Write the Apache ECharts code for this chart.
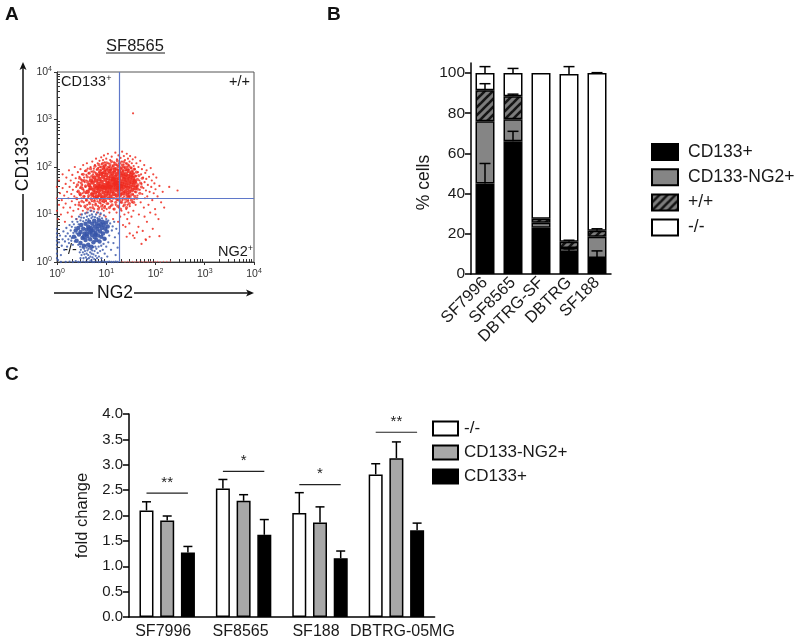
<!DOCTYPE html>
<html><head><meta charset="utf-8">
<style>html,body{margin:0;padding:0;background:#fff}#c{width:800px;height:642px}</style>
<script src="https://cdn.jsdelivr.net/npm/echarts@6/dist/echarts.min.js"></script>
</head><body><div id="c"></div>
<script>
const redCore=[[4.2,30],[4.5,42],[4.8,36],[4.9,52],[5.2,26],[5.3,47],[5.5,33],[5.7,60],[5.9,40],[6,29],[6.2,52],[6.4,24],[6.5,36],[6.8,66],[6.9,45],[7,31],[7.3,56],[7.4,26],[7.6,40],[7.8,72],[8,34],[8.1,49],[8.4,23],[8.6,62],[8.8,29],[9,42],[9.2,78],[9.4,36],[9.6,54],[9.8,25],[10,68],[10.3,31],[10.5,46],[10.8,39],[11,58],[11.2,28],[11.5,82],[11.7,35],[12,50],[12.2,24],[12.5,64],[12.8,42],[13,31],[13.3,74],[13.6,55],[13.9,37],[14.2,27],[14.5,47],[14.8,86],[15,62],[15.4,33],[15.7,41],[16,53],[16.3,25],[16.6,70],[17,37],[17.4,46],[17.8,30],[18,58],[18.4,80],[18.8,40],[19.2,26],[19.6,50],[20,66],[20.5,34],[21,44],[21.5,74],[22,28],[22.5,56],[23,38],[23.6,62],[24,47],[24.6,31],[25,70],[25.5,41],[26,54],[26.8,26],[27.5,36],[28,64],[28.8,46],[29.5,30],[30,56],[31,39],[32,68],[33,48],[34,33],[35,58],[36,42],[38,50],[39,36],[12,38],[15,44],[10,37],[8.5,38],[18,35],[20,40],[14,55],[16,47],[7,38],[11,44]];
const redMid=[[2.5,22],[2.6,42],[2.7,31],[2.8,16],[2.9,58],[3,26],[3.1,46],[3.2,19],[3.3,35],[3.4,70],[3.5,24],[3.6,52],[3.7,15],[3.8,40],[3.9,84],[4,20],[4.1,62],[4.2,13],[4.4,25],[4.5,74],[4.6,17],[4.8,92],[5,21],[5.1,64],[5.3,14],[5.5,80],[5.7,19],[5.9,104],[6.1,16],[6.3,72],[6.5,22],[6.7,90],[6.9,13],[7.1,112],[7.3,18],[7.5,84],[7.7,21],[7.9,100],[8.1,15],[8.3,74],[8.5,120],[8.7,19],[9,92],[9.2,14],[9.4,108],[9.6,20],[9.9,86],[10.2,122],[10.4,17],[10.7,98],[11,22],[11.3,74],[11.6,14],[11.9,112],[12.2,88],[12.5,19],[12.8,130],[13.1,16],[13.4,96],[13.8,22],[14.1,108],[14.5,13],[14.9,78],[15.2,118],[15.6,18],[16,92],[16.4,21],[16.8,135],[17.2,15],[17.6,102],[18,86],[18.5,20],[19,122],[19.5,13],[20,94],[20.5,18],[21,110],[21.6,22],[22.2,84],[22.8,128],[23.4,16],[24,100],[24.6,21],[25.2,88],[25.8,14],[26.4,116],[27,19],[27.6,84],[28.2,23],[28.8,104],[29.5,17],[30.2,78],[31,25],[31.8,96],[32.6,20],[33.4,82],[34.2,27],[35,74],[36,18],[37,90],[38,24],[39,64],[40,30],[41,78],[42,22],[43,55],[44,34],[46,66],[48,28],[50,46],[52,38],[54,58],[3.3,52],[3.6,30],[4.2,48],[4.6,34],[5.1,28],[5.8,23],[3.1,38],[2.9,28],[40,46],[42,38],[37,52],[34,64],[44,42],[27,90],[22,100],[17,110],[12,100],[9,100]];
const redScatter=[[1,12],[1,22],[1,38],[1.05,8],[1.1,16],[1.1,52],[1.15,28],[1.2,10],[1.25,20],[1.3,36],[1.3,70],[1.35,14],[1.4,25],[1.45,7],[1.5,44],[1.5,17],[1.55,60],[1.6,30],[1.65,11],[1.7,22],[1.75,85],[1.8,38],[1.85,14],[1.9,52],[1.95,27],[2,9],[2,19],[2.05,68],[2.1,33],[2.15,12],[2.2,46],[2.25,24],[2.3,100],[2.35,16],[2.4,58],[2.45,38],[2.5,8],[2.55,21],[2.6,30],[2.65,78],[2.7,13],[2.75,48],[2.8,18],[2.85,62],[2.9,26],[2.95,36],[3,10],[3,90],[3.05,15],[3.1,54],[3.15,22],[3.2,70],[3.25,42],[3.3,28],[3.35,12],[3.4,110],[3.45,33],[3.5,18],[3.55,60],[3.6,24],[3.65,48],[3.7,82],[3.75,14],[3.8,38],[3.85,28],[3.9,20],[3.95,68],[4,52],[4,11],[4.05,120],[4.1,16],[4.2,92],[4.3,23],[4.4,74],[4.5,18],[4.6,60],[4.7,14],[4.8,100],[4.9,22],[5,80],[5,12],[5.1,19],[5.2,130],[5.3,16],[5.4,70],[5.5,24],[5.6,92],[5.7,13],[5.8,20],[5.9,110],[6,76],[6.1,17],[6.2,150],[6.3,22],[6.4,88],[6.5,11],[6.6,19],[6.7,120],[6.8,15],[6.9,96],[7,24],[7.1,78],[7.2,14],[7.3,135],[7.4,20],[7.5,100],[7.6,10],[7.7,17],[7.8,85],[7.9,160],[8,23],[8.1,115],[8.2,13],[8.3,19],[8.4,90],[8.5,16],[8.6,140],[8.7,105],[8.8,21],[8.9,12],[9,175],[9.1,18],[9.2,95],[9.3,125],[9.4,15],[9.5,22],[9.6,84],[9.7,9],[9.8,110],[9.9,19],[10,150],[10.2,13],[10.4,90],[10.6,22],[10.8,190],[11,17],[11.2,120],[11.4,98],[11.6,11],[11.8,21],[12,140],[12.3,15],[12.6,88],[12.9,165],[13.2,19],[13.5,105],[13.8,8],[14.1,13],[14.4,125],[14.7,22],[15,95],[15.3,200],[15.6,16],[15.9,110],[16.2,11],[16.5,145],[16.8,20],[17.1,88],[17.4,7],[17.7,175],[18,14],[18.3,120],[18.6,23],[18.9,100],[19.2,9],[19.5,155],[19.8,18],[20.1,92],[20.4,12],[20.7,130],[21,210],[21.3,20],[21.6,85],[21.9,6],[22.2,15],[22.5,112],[22.8,170],[23.1,24],[23.4,10],[23.7,95],[24,140],[24.3,18],[24.6,5.5],[24.9,84],[25.2,120],[25.5,13],[25.8,22],[26.1,190],[26.4,100],[26.7,8],[27,16],[27.3,78],[27.6,150],[27.9,20],[28.2,11],[28.5,110],[28.8,88],[29.1,24],[29.4,6.5],[29.7,130],[30,15],[30.5,170],[31,75],[31.5,22],[32,95],[32.5,9],[33,120],[33.5,18],[34,80],[34.5,145],[35,26],[35.5,12],[36,105],[36.5,72],[37,21],[37.5,3.2],[38,90],[38.5,30],[39,160],[39.5,16],[40,65],[41,120],[42,40],[43,25],[44,78],[45,100],[46,10],[47,52],[48,33],[49,135],[50,18],[51,70],[52,44],[53,90],[54,27],[55,4.5],[56,60],[57,36],[58,14],[59,110],[60,48],[61,22],[62,75],[63,3],[64,32],[65,56],[66,85],[67,7],[68,24],[70,42],[72,16],[74,62],[76,30],[78,11],[80,95],[82,38],[84,52],[86,20],[88,5],[90,70],[92,28],[95,45],[98,13],[100,34],[104,60],[110,24],[115,8],[120,40],[130,18],[140,30],[150,14],[190,38],[35,1350],[280,32],[76,3.4],[42,4.2],[30,4],[120,3.5],[52,2.4],[64,2.9],[26,3.4],[100,10],[60,9],[35,3.6],[45,5.5]];
const blueCore=[[2.2,3.4],[2.4,4.6],[2.5,2.8],[2.7,5.2],[2.8,3.8],[3,2.5],[3,4.3],[3.1,6],[3.3,3.2],[3.4,5],[3.5,2.2],[3.6,4],[3.8,6.4],[3.8,2.9],[4,4.8],[4.1,3.5],[4.3,2.3],[4.3,5.6],[4.5,7],[4.6,4.2],[4.7,3],[4.9,5.2],[5,2.1],[5.1,3.7],[5.2,6.4],[5.4,4.6],[5.5,2.6],[5.7,7.4],[5.8,3.3],[5.9,5.5],[6.1,4.1],[6.3,2.9],[6.4,6.5],[6.6,4.9],[6.8,3.6],[7,5.7],[7.1,7.6],[7.3,2.7],[7.5,4.4],[7.7,6.2],[7.9,3.4],[8.1,5.2],[8.4,7],[8.6,4],[8.9,6],[9.2,3.1],[9.5,5],[9.9,6.8],[10.3,4.4],[10.7,5.6],[4,3.9],[5,4.5],[6,3.8],[3.5,3.4],[4.5,5]];
const blueScatter=[[1,1.2],[1,1.5],[1,1.9],[1,2.3],[1,2.8],[1,3.3],[1,4],[1,5],[1.05,1.1],[1.1,2.6],[1.15,3.6],[1.2,1.4],[1.25,2.2],[1.3,3],[1.35,4.4],[1.4,1.8],[1.45,2.7],[1.5,3.5],[1.55,5.2],[1.6,2.1],[1.65,4],[1.7,3],[1.75,2.5],[1.8,6],[1.85,3.5],[1.9,4.6],[1.95,2.8],[2,3.2],[2,5.5],[2.05,7],[2.1,2.3],[2.15,4.1],[2.2,6.2],[2.3,2.7],[2.35,5.3],[2.4,3.3],[2.45,8],[2.5,4],[2.6,7],[2.7,2.3],[2.75,6.2],[2.8,9],[2.9,1.6],[2.95,2.1],[3,1.2],[3,7.5],[3.05,1.8],[3.1,8.6],[3.15,1.4],[3.2,10],[3.3,2],[3.35,1.6],[3.4,7.2],[3.45,1.2],[3.5,8.5],[3.55,1.9],[3.6,1.45],[3.7,1.7],[3.75,10.5],[3.8,2.2],[3.85,1.25],[3.9,7.6],[4,1.5],[4,2],[4.05,9],[4.1,1.15],[4.15,1.75],[4.2,11],[4.3,1.4],[4.35,8],[4.4,1.9],[4.45,1.2],[4.5,2.1],[4.6,9.5],[4.7,1.6],[4.75,1.3],[4.8,12],[4.9,1.85],[5,1.1],[5,8.4],[5.05,1.5],[5.1,10],[5.2,1.75],[5.25,1.25],[5.3,9],[5.4,2.05],[5.5,1.45],[5.6,11.5],[5.7,1.15],[5.8,1.7],[5.9,8.8],[6,2.1],[6.1,1.35],[6.2,10],[6.3,1.9],[6.5,1.2],[6.6,8.4],[6.7,1.55],[6.8,11],[7,2.1],[7.1,1.3],[7.3,9],[7.5,1.7],[7.7,10.5],[7.9,2.2],[8,1.2],[8.2,8.3],[8.5,1.8],[8.8,2.4],[9,9.6],[9.3,1.5],[9.6,3],[10,2.1],[10,8],[10.5,1.3],[11,7.4],[11,2.6],[11.5,3.6],[12,6.5],[12.5,1.8],[13,4.6],[13.5,5.6],[14,2.5],[14.5,7],[15,3.3],[15.5,1.4],[16,5],[17,2],[18,4],[1.2,1],[1.5,1],[1.8,1.02],[2.1,1],[2.4,1.04],[2.7,1],[3,1],[3.4,1.02],[3.8,1],[4.2,1],[4.7,1.03],[5.2,1],[5.7,1],[6.3,1.02],[7,1],[7.7,1],[8.5,1.03],[9.4,1],[10.4,1],[11.5,1.02],[12.7,1],[14,1],[15.5,1.02],[17,1]];
const redBottom=[[21,1.03],[24,1],[27,1.03],[30,1],[34,1.02],[38,1],[42,1.03],[47,1],[52,1.02],[58,1],[64,1.03],[71,1],[79,1.02],[88,1],[98,1.02],[110,1.03],[125,1],[145,1.03],[170,1.02],[200,1.04]];
const gateX=18, gateY=22;

const catB=['SF7996','SF8565','DBTRG-SF','DBTRG','SF188'];
const pctBlack=[45,66,23,11,8];
const pctGray=[31,11,2.5,2,10.5];
const pctHatch=[15.5,11.5,2,3,3];
const pctWhite=[8.5,11.5,72.5,83.5,78.5];
const errBlack=[55,71,null,12.5,11.5];
const errHatch=[94.7,89.5,null,16.8,22.5];
const errWhite=[103.2,102.3,null,103.2,100.2];

const catC=['SF7996','SF8565','SF188','DBTRG-05MG'];
const fcWhite=[2.1,2.53,2.05,2.81];
const fcGray=[1.9,2.29,1.86,3.13];
const fcBlack=[1.27,1.62,1.16,1.71];
const fcWhiteErr=[2.27,2.71,2.45,3.02];
const fcGrayErr=[1.99,2.41,2.17,3.45];
const fcBlackErr=[1.39,1.92,1.30,1.85];
const sigLevel=[2.44,2.87,2.61,3.64];
const sigStars=['**','*','*','**'];

const majorLog=[1,10,100,1000,10000];
const minorLog=[2,3,4,5,6,7,8,9,20,30,40,50,60,70,80,90,200,300,400,500,600,700,800,900,2000,3000,4000,5000,6000,7000,8000,9000];
const tickB=[0,20,40,60,80,100];

const FONT='"Liberation Sans",Arial,sans-serif';
const INK='#1a1a1a';
const hatch=document.createElement('canvas');hatch.width=8;hatch.height=8;
{const g=hatch.getContext('2d');g.fillStyle='#7c7c7c';g.fillRect(0,0,8,8);g.strokeStyle='#151515';g.lineWidth=2.6;
 [[-2,10,10,-2],[-6,6,6,-6],[2,14,14,2]].forEach(l=>{g.beginPath();g.moveTo(l[0],l[1]);g.lineTo(l[2],l[3]);g.stroke();});}
const hatchFill={image:hatch,repeat:'repeat'};

const logLabel=v=>'{b|10}{s|'+Math.round(Math.log10(v))+'}';
const logRich={b:{fontSize:10.5,color:'#333',fontFamily:FONT},s:{fontSize:7,color:'#333',fontFamily:FONT,verticalAlign:'top',padding:[0,0,5,0]}};

function errBar(capW,off,lw){return function(p,api){
  const x0=api.coord([api.value(0),api.value(1)]);const x1=api.coord([api.value(0),api.value(2)]);
  const x=x0[0]+off;const st={stroke:'#000',lineWidth:lw,fill:null};
  return {type:'group',children:[
   {type:'line',shape:{x1:x,y1:x0[1],x2:x,y2:x1[1]},style:st},
   {type:'line',shape:{x1:x-capW/2,y1:x1[1],x2:x+capW/2,y2:x1[1]},style:st}]};};}
const cum=(arrs,i)=>arrs.reduce((s,a)=>s+a[i],0);
const errData=(tops,lower)=>tops.map((t,i)=>t==null?null:[i,cum(lower,i),t]).filter(Boolean);

const barW=14,barPitch=20.7;
const fcErr=(vals,errs)=>errs.map((e,i)=>[i,vals[i],e]);
const bStyle=c=>({color:c,borderColor:'#000',borderWidth:1.5});
const catCShift=[[0,8],[0,6],[0,8],[12,0]];
const catCItems=catC.map((c,i)=>({value:c,textStyle:{padding:[0,catCShift[i][1],0,catCShift[i][0]]}}));

const chart=echarts.init(document.getElementById('c'));
const pt=(name,data,color,size,op)=>({type:'scatter',name,xAxisIndex:0,yAxisIndex:0,data,symbolSize:size,silent:true,itemStyle:{color,opacity:op},animation:false});
chart.setOption({
 animation:false,backgroundColor:'#fff',
 textStyle:{fontFamily:FONT},
 grid:[
  {left:57,top:72,width:197,height:190,show:true,borderColor:'#555',borderWidth:1},
  {left:471,top:63,width:140,height:211},
  {left:129,top:414,width:305.6,height:203}],
 xAxis:[
  {type:'log',logBase:10,gridIndex:0,min:1,max:10000,position:'bottom',
   axisLine:{lineStyle:{color:'#333',width:1}},splitLine:{show:false},minorTick:{show:false},
   axisTick:{customValues:majorLog,length:3,lineStyle:{color:'#333'}},
   axisLabel:{customValues:majorLog,formatter:logLabel,rich:logRich,margin:6,hideOverlap:false}},
  {type:'log',logBase:10,gridIndex:0,min:1,max:10000,position:'bottom',
   axisLine:{show:false},splitLine:{show:false},axisLabel:{show:false},
   axisTick:{show:true,customValues:minorLog,inside:true,length:3,lineStyle:{color:'#333'}}},
  {type:'category',gridIndex:1,data:catB,
   axisLine:{lineStyle:{color:'#000',width:1.5}},axisTick:{alignWithLabel:true,length:6,lineStyle:{color:'#000',width:1.5}},
   axisLabel:{rotate:45,fontSize:16.5,color:INK,margin:6,interval:0}},
  {type:'category',gridIndex:2,data:catCItems,
   axisLine:{lineStyle:{color:'#000',width:1.5}},axisTick:{alignWithLabel:true,length:5,lineStyle:{color:'#000',width:1.5}},
   axisLabel:{fontSize:16,color:INK,margin:7,interval:0}}],
 yAxis:[
  {type:'log',logBase:10,gridIndex:0,min:1,max:10000,
   axisLine:{show:true,lineStyle:{color:'#333',width:1}},splitLine:{show:false},minorTick:{show:false},
   axisTick:{show:true,customValues:majorLog,length:3,lineStyle:{color:'#333'}},
   axisLabel:{customValues:majorLog,formatter:logLabel,rich:logRich,margin:5,hideOverlap:false}},
  {type:'log',logBase:10,gridIndex:0,min:1,max:10000,position:'left',
   axisLine:{show:false},splitLine:{show:false},axisLabel:{show:false},
   axisTick:{show:true,customValues:minorLog,inside:true,length:3,lineStyle:{color:'#333'}}},
  {type:'value',gridIndex:1,min:0,max:105,
   name:'% cells',nameLocation:'middle',nameGap:38,nameTextStyle:{fontSize:17.5,color:INK,padding:[0,28,0,0]},
   axisLine:{show:true,lineStyle:{color:'#000',width:1.5}},splitLine:{show:false},
   axisTick:{show:true,customValues:tickB,length:6,lineStyle:{color:'#000',width:1.5}},
   axisLabel:{customValues:tickB,fontSize:15.5,color:INK,margin:6}},
  {type:'value',gridIndex:2,min:0,max:4,interval:0.5,
   name:'fold change',nameLocation:'middle',nameGap:38,nameTextStyle:{fontSize:16.5,color:INK},
   axisLine:{show:true,lineStyle:{color:'#000',width:1.5}},splitLine:{show:false},
   axisTick:{show:true,length:6,lineStyle:{color:'#000',width:1.5}},
   axisLabel:{fontSize:15,color:INK,margin:6,formatter:v=>v.toFixed(1)}}],
 legend:[
  {orient:'vertical',left:651,top:143,padding:0,itemWidth:26,itemHeight:16,itemGap:7.2,selectedMode:false,icon:'rect',
   textStyle:{fontSize:17.5,color:INK,padding:[0,0,0,5]},
   data:['CD133+','CD133-NG2+','+/+','-/-']},
  {orient:'vertical',left:432,top:420,padding:0,itemWidth:25,itemHeight:14,itemGap:7,selectedMode:false,icon:'rect',
   textStyle:{fontSize:17,color:INK,padding:[0,0,0,1]},
   formatter:n=>n.replace('fc ',''),
   data:['fc -/-','fc CD133-NG2+','fc CD133+']}],
 series:[
  pt('redScatter',redScatter,'#ee2a1f',2.2,0.85),
  pt('redMid',redMid,'#ee2a1f',3.2,0.75),
  pt('redCore',redCore,'#ee2a1f',4.5,0.9),
  pt('blueScatter',blueScatter,'#3f5cab',2.3,0.85),
  pt('blueCore',blueCore,'#3654a8',4.5,0.9),
  Object.assign(pt('redBottom',redBottom,'#e85a60',1.5,0.8),{
   markLine:{silent:true,symbol:'none',animation:false,label:{show:false},lineStyle:{color:'#5f78c9',width:1.2,type:'solid'},
    data:[{xAxis:gateX},{yAxis:gateY}]}}),
  {type:'bar',name:'CD133+',stack:'p',xAxisIndex:2,yAxisIndex:2,barWidth:19,data:pctBlack,itemStyle:bStyle('#000')},
  {type:'bar',name:'CD133-NG2+',stack:'p',xAxisIndex:2,yAxisIndex:2,data:pctGray,itemStyle:bStyle('#858585')},
  {type:'bar',name:'+/+',stack:'p',xAxisIndex:2,yAxisIndex:2,data:pctHatch,itemStyle:bStyle(hatchFill)},
  {type:'bar',name:'-/-',stack:'p',xAxisIndex:2,yAxisIndex:2,data:pctWhite,itemStyle:bStyle('#fff')},
  {type:'custom',xAxisIndex:2,yAxisIndex:2,z:5,silent:true,renderItem:errBar(11,0,1.5),encode:{x:0,y:2},data:errData(errBlack,[pctBlack])},
  {type:'custom',xAxisIndex:2,yAxisIndex:2,z:5,silent:true,renderItem:errBar(11,0,1.5),encode:{x:0,y:2},data:errData(errHatch,[pctBlack,pctGray,pctHatch])},
  {type:'custom',xAxisIndex:2,yAxisIndex:2,z:5,silent:true,renderItem:errBar(11,0,1.5),encode:{x:0,y:2},data:errData(errWhite,[pctBlack,pctGray,pctHatch,pctWhite])},
  {type:'bar',name:'fc -/-',xAxisIndex:3,yAxisIndex:3,barWidth:barW,barGap:'48%',data:fcWhite,itemStyle:bStyle('#fff')},
  {type:'bar',name:'fc CD133-NG2+',xAxisIndex:3,yAxisIndex:3,barWidth:barW,barGap:'48%',data:fcGray,itemStyle:bStyle('#a8a8a8')},
  {type:'bar',name:'fc CD133+',xAxisIndex:3,yAxisIndex:3,barWidth:barW,barGap:'48%',data:fcBlack,itemStyle:bStyle('#000')},
  {type:'custom',xAxisIndex:3,yAxisIndex:3,silent:true,renderItem:errBar(9,-barPitch,1.5),encode:{x:0,y:2},data:fcErr(fcWhite,fcWhiteErr)},
  {type:'custom',xAxisIndex:3,yAxisIndex:3,silent:true,renderItem:errBar(9,0,1.5),encode:{x:0,y:2},data:fcErr(fcGray,fcGrayErr)},
  {type:'custom',xAxisIndex:3,yAxisIndex:3,silent:true,renderItem:errBar(9,barPitch,1.5),encode:{x:0,y:2},data:fcErr(fcBlack,fcBlackErr)},
  {type:'custom',xAxisIndex:3,yAxisIndex:3,silent:true,encode:{x:0,y:1},
   data:sigLevel.map((v,i)=>[i,v]),
   renderItem:function(p,api){const c=api.coord([api.value(0),api.value(1)]);
    return {type:'group',children:[
     {type:'line',shape:{x1:c[0]-barPitch,y1:c[1],x2:c[0]+barPitch,y2:c[1]},style:{stroke:'#222',lineWidth:1.2}},
     {type:'text',style:{text:sigStars[p.dataIndex],x:c[0],y:c[1]-3,align:'center',verticalAlign:'bottom',fontSize:15,fontFamily:FONT,fill:'#222'}}]};}}
 ],
 graphic:[
  {type:'text',left:5,top:5,style:{text:'A',font:'bold 19px "Liberation Sans"',fill:'#111'}},
  {type:'text',left:327,top:5,style:{text:'B',font:'bold 19px "Liberation Sans"',fill:'#111'}},
  {type:'text',left:5,top:365,style:{text:'C',font:'bold 19px "Liberation Sans"',fill:'#111'}},
  {type:'text',x:135,y:46,style:{text:'SF8565',font:'16.5px "Liberation Sans"',fill:INK,align:'center',verticalAlign:'middle'}},
  {type:'line',shape:{x1:106,y1:53,x2:165,y2:53},style:{stroke:INK,lineWidth:1}},
  {type:'text',x:61,y:82,style:{rich:{a:{fontSize:14.5,fontFamily:FONT,fill:INK},s:{fontSize:9,fontFamily:FONT,fill:INK,verticalAlign:'top'}},text:'{a|CD133}{s|+}',verticalAlign:'middle'}},
  {type:'text',x:250,y:82,style:{text:'+/+',font:'14.5px "Liberation Sans"',fill:INK,align:'right',verticalAlign:'middle'}},
  {type:'rect',shape:{x:60,y:242,width:20,height:15},style:{fill:'#fff'}},
  {type:'text',x:70,y:250,style:{text:'-/-',font:'14.5px "Liberation Sans"',fill:INK,align:'center',verticalAlign:'middle'}},
  {type:'text',x:253,y:252,style:{rich:{a:{fontSize:14.5,fontFamily:FONT,fill:INK},s:{fontSize:9,fontFamily:FONT,fill:INK,verticalAlign:'top'}},text:'{a|NG2}{s|+}',align:'right',verticalAlign:'middle'}},
  {type:'text',x:115,y:293,style:{text:'NG2',font:'17.5px "Liberation Sans"',fill:'#111',align:'center',verticalAlign:'middle'}},
  {type:'line',shape:{x1:54,y1:293,x2:93,y2:293},style:{stroke:'#111',lineWidth:1.3}},
  {type:'line',shape:{x1:134,y1:293,x2:250,y2:293},style:{stroke:'#111',lineWidth:1.3}},
  {type:'polygon',shape:{points:[[254,293],[246,289.5],[248,293],[246,296.5]]},style:{fill:'#111'}},
  {type:'text',x:23,y:164,rotation:Math.PI/2,style:{text:'CD133',font:'17.5px "Liberation Sans"',fill:'#111',align:'center',verticalAlign:'middle'}},
  {type:'line',shape:{x1:23,y1:261,x2:23,y2:194},style:{stroke:'#111',lineWidth:1.5}},
  {type:'line',shape:{x1:23,y1:135,x2:23,y2:68},style:{stroke:'#111',lineWidth:1.5}},
  {type:'polygon',shape:{points:[[23,62],[19.5,70],[23,68],[26.5,70]]},style:{fill:'#111'}}
 ]
});
</script></body></html>
